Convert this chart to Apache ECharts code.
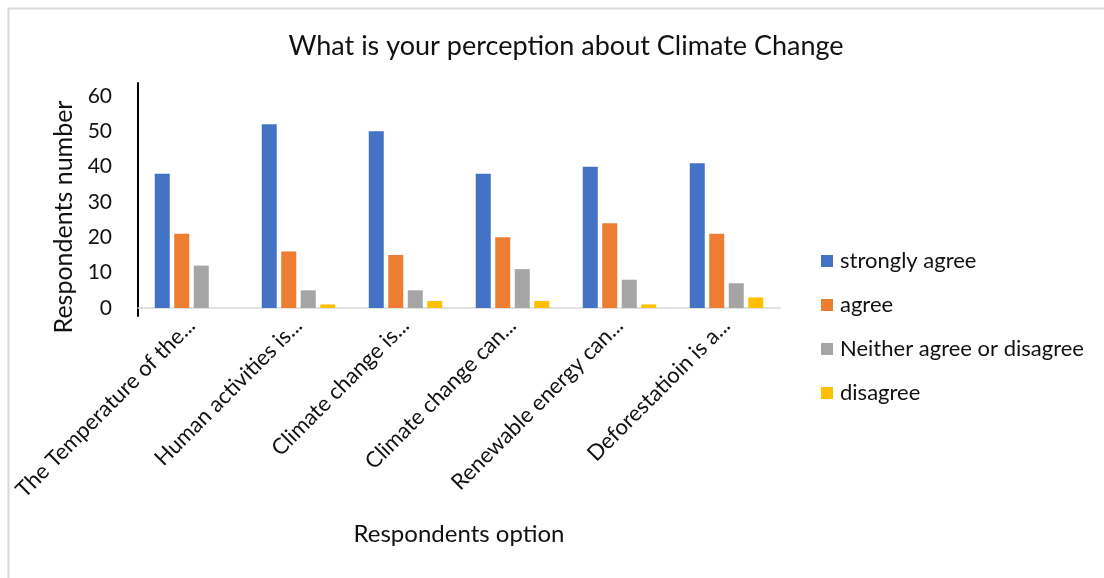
<!DOCTYPE html>
<html>
<head>
<meta charset="utf-8">
<script src="https://cdn.jsdelivr.net/npm/echarts@6/dist/echarts.min.js"></script>
<style>
html,body{margin:0;padding:0;background:#fff;}
#chart{width:1104px;height:578px;}
</style>
</head>
<body>
<div id="chart"></div>
<script>
const categories = [
  "The Temperature of the...",
  "Human activities is...",
  "Climate change is...",
  "Climate change can...",
  "Renewable energy can...",
  "Deforestatioin is a..."
];
const seriesNames = ["strongly agree", "agree", "Neither agree or disagree", "disagree"];
const stronglyAgree = [38, 52, 50, 38, 40, 41];
const agree = [21, 16, 15, 20, 24, 21];
const neither = [12, 5, 5, 11, 8, 7];
const disagree = [0, 1, 2, 2, 1, 3];
const colors = ["#4472C4", "#ED7D31", "#A5A5A5", "#FFC000"];
const yTicks = [0, 10, 20, 30, 40, 50, 60];

const FONT = "Lato, 'Open Sans', sans-serif";
const TXT = "#111";

const chart = echarts.init(document.getElementById('chart'), null, {renderer: 'canvas'});
const dataSets = [stronglyAgree, agree, neither, disagree];

chart.setOption({
  animation: false,
  backgroundColor: '#fff',
  color: colors,
  title: {
    text: 'What is your perception about Climate Change',
    left: 561, top: 28, textAlign: 'center',
    textStyle: {fontFamily: FONT, fontSize: 27, fontWeight: 'normal', color: TXT}
  },
  graphic: [{
    type: 'rect', left: 6, top: 6, z: -1,
    shape: {width: 1200, height: 700},
    style: {fill: 'none', stroke: '#d9d9d9', lineWidth: 2}
  }],
  legend: {
    orient: 'vertical', left: 816, top: 245,
    itemWidth: 12, itemHeight: 12, itemGap: 22,
    icon: 'rect',
    data: seriesNames,
    textStyle: {fontFamily: FONT, fontSize: 22, color: TXT, padding: [0, 0, 0, 2]}
  },
  grid: [
    {left: 138, right: 324, top: 96, bottom: 270, containLabel: false},
    {left: 138, right: 324, top: 83, bottom: 262, containLabel: false}
  ],
  xAxis: [{
    type: 'category', gridIndex: 0, data: categories,
    axisLine: {show: true, lineStyle: {color: '#d9d9d9', width: 1.5}},
    axisTick: {show: false},
    axisLabel: {rotate: 45, interval: 0, margin: 14, fontFamily: FONT, fontSize: 22, color: TXT},
    name: 'Respondents option', nameLocation: 'middle', nameGap: 214,
    nameTextStyle: {fontFamily: FONT, fontSize: 24, color: TXT}
  }, {
    type: 'value', gridIndex: 1, show: false, min: 0, max: 1
  }],
  yAxis: [{
    type: 'value', gridIndex: 0, min: 0, max: 60, interval: 10,
    axisLine: {show: false}, axisTick: {show: false}, splitLine: {show: false},
    axisLabel: {margin: 26, fontFamily: FONT, fontSize: 21, color: TXT,
      formatter: v => yTicks.indexOf(v) >= 0 ? String(v) : ''},
    name: 'Respondents number', nameLocation: 'middle', nameGap: 60, nameRotate: 90,
    nameTextStyle: {fontFamily: FONT, fontSize: 25, color: TXT, padding: [0, 30, 0, 0]}
  }, {
    type: 'value', gridIndex: 1, min: 0, max: 1,
    axisLine: {show: true, lineStyle: {color: '#000', width: 2}},
    axisTick: {show: false}, axisLabel: {show: false}, splitLine: {show: false}
  }],
  series: dataSets.map((d, i) => ({
    name: seriesNames[i], type: 'bar', xAxisIndex: 0, yAxisIndex: 0,
    data: d, barWidth: 15, barGap: '30%',
    itemStyle: {color: colors[i]}
  }))
});
</script>
</body>
</html>
